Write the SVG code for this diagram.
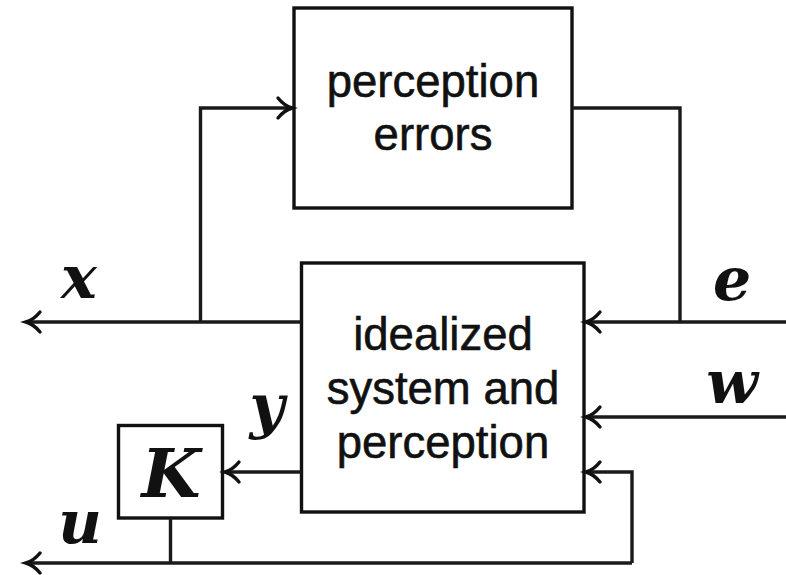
<svg xmlns="http://www.w3.org/2000/svg" width="786" height="575" viewBox="0 0 786 575">
  <style>
    .box { fill: #fff; stroke: #111; stroke-width: 3.4; }
    .wire { fill: none; stroke: #1a1a1a; stroke-width: 3.4; stroke-linejoin: miter; }
    .lbl { font-family: "Liberation Sans", Arial, sans-serif; font-size: 45.5px; fill: #111; stroke: #111; stroke-width: 0.6; text-anchor: middle; }
    .math { font-family: "DejaVu Serif", "Liberation Serif", serif; font-style: italic; font-weight: bold; font-size: 60px; fill: #111; text-anchor: middle; }
    .gain { font-size: 68px; }
  </style>
  <defs>
    <marker id="arrow" markerUnits="userSpaceOnUse" viewBox="-18 -13 21 26" refX="0" refY="0" markerWidth="21" markerHeight="26" orient="auto" overflow="visible">
      <path d="M -14 -10 C -10 -5, -5 -1.5, 0 0 C -5 1.5, -10 5, -14 10" fill="none" stroke="#111" stroke-width="3.4" stroke-linecap="round"/>
    </marker>
  </defs>

  <!-- blocks -->
  <g id="perception-errors">
    <rect class="box" x="294" y="8" width="278" height="200"/>
    <text class="lbl" x="433" y="97">perception</text>
    <text class="lbl" x="433" y="150">errors</text>
  </g>
  <g id="idealized-system">
    <rect class="box" x="301.5" y="263" width="282.5" height="249"/>
    <text class="lbl" x="443" y="350">idealized</text>
    <text class="lbl" x="443" y="404">system and</text>
    <text class="lbl" x="443" y="458">perception</text>
  </g>
  <g id="controller-K">
    <rect class="box" x="118.5" y="425.5" width="104" height="92.5"/>
    <text class="math gain" x="171" y="497">K</text>
  </g>

  <!-- signal wires -->
  <g id="connectors">
    <!-- x output -->
    <path class="wire" d="M 301.5 322 L 26 322" marker-end="url(#arrow)"/>
    <!-- x fed to perception errors -->
    <path class="wire" d="M 200.5 322 L 200.5 108 L 292 108" marker-end="url(#arrow)"/>
    <!-- perception errors output joins e -->
    <path class="wire" d="M 572 108 L 680 108 L 680 322"/>
    <!-- e input -->
    <path class="wire" d="M 786 322 L 586 322" marker-end="url(#arrow)"/>
    <!-- w input -->
    <path class="wire" d="M 786 417 L 586 417" marker-end="url(#arrow)"/>
    <!-- y to controller -->
    <path class="wire" d="M 301.5 472 L 225 472" marker-end="url(#arrow)"/>
    <!-- controller output u -->
    <path class="wire" d="M 170.5 518 L 170.5 563"/>
    <path class="wire" d="M 632 563 L 26 563" marker-end="url(#arrow)"/>
    <!-- u fed back into the system -->
    <path class="wire" d="M 632 563 L 632 472 L 586 472" marker-end="url(#arrow)"/>
  </g>

  <!-- signal labels -->
  <g id="labels">
    <text class="math" x="79" y="298">x</text>
    <text class="math" x="732" y="300">e</text>
    <text class="math" x="732" y="403">w</text>
    <text class="math" x="267" y="427">y</text>
    <text class="math" x="80" y="543">u</text>
  </g>
</svg>
